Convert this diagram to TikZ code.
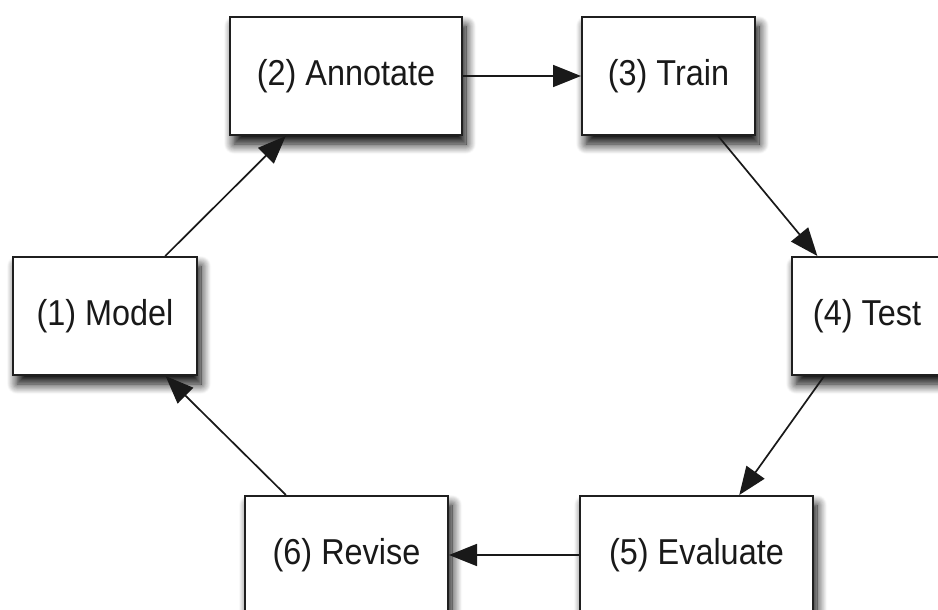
\documentclass[tikz,border=0pt]{standalone}
\usepackage{fontspec}
\usepackage{graphicx}
\setmainfont{Liberation Sans}
\usetikzlibrary{arrows.meta,shadows.blur}
\newcommand{\narrowlbl}[1]{\scalebox{0.9}[1]{#1}}
\tikzset{
  stage/.style={draw=black!88, line width=2pt, fill=white, minimum height=118pt,
    inner sep=0pt, font=\fontsize{36}{42}\selectfont, text=black!90,
    blur shadow={shadow xshift=4pt, shadow yshift=-9pt, shadow blur radius=10pt, shadow opacity=100, shadow blur steps=12}},
  flow/.style={-{Triangle[length=28pt,width=22pt]}, line width=1.7pt, draw=black!90}
}
\begin{document}
\begin{tikzpicture}[x=1pt,y=-1pt]
\useasboundingbox (0,0) rectangle (938,610);
\clip (0,0) rectangle (938,610);
\node[stage, minimum width=184pt] (model) at (105,316) {\narrowlbl{(1) Model}};
\node[stage, minimum width=232pt] (annot) at (346,76) {\narrowlbl{(2) Annotate}};
\node[stage, minimum width=173pt] (train) at (668.5,76) {\narrowlbl{(3) Train}};
\node[stage, minimum width=150pt] (test) at (867,316) {\narrowlbl{(4) Test}};
\node[stage, minimum width=233pt] (eval) at (696.5,555) {\narrowlbl{(5) Evaluate}};
\node[stage, minimum width=203pt] (revise) at (346.5,555) {\narrowlbl{(6) Revise}};
\draw[flow] (model) -- (annot);
\draw[flow] (annot) -- (train);
\draw[flow] (train) -- (test);
\draw[flow] (test) -- (eval);
\draw[flow] (eval) -- (revise);
\draw[flow] (revise) -- (model);
\end{tikzpicture}
\end{document}
